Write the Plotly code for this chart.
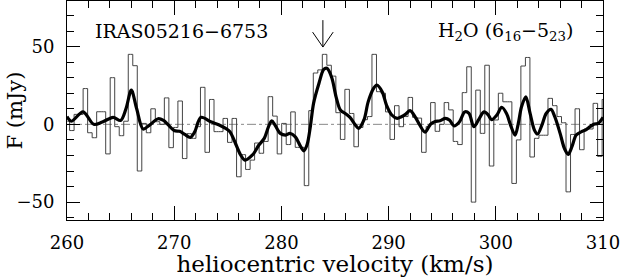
import plotly.graph_objects as go

# ---- data ----
# spectral channels (histogram): first channel centre and channel width (km/s)
CHAN_V0 = 260.03
CHAN_DV = 0.421
flux = [2, -4, 6.4, 6.4, 23, -5.4, -8.6, 8.1, 8.1, -19,
        30, -1.5, -7.3, 2, 45, 37.7, -30, 0.6, -5.4, 10,
        1.7, 0, 17, -15, -2, 15, -22, -6, -9, -1.5,
        23.8, -18, 16, -4.7, -4.7, 3.8, -11.6, 3.8, -33.7, -19.5,
        -29, -23, -12, -18.6, -11, 17.8, 5.3, -19, 0.6, -13,
        8, -14.8, -14.8, -39.4, 8.8, 33, 35, 45, 38, 31,
        7.5, -9.7, 22.5, 7, -14.4, -2, 3, 5, 45, 21,
        20, 8, -9.7, 12, -1.5, 5, 17.3, 4.5, 4, -18,
        -1.5, 14, -4.5, 0, 14, 9.3, -11, -13, 20.4, 37,
        -50, 22, -5.8, 38, -26.8, 2.8, 20, 14.5, 14.5, -38,
        -10, 37.5, 43, -21, -9, -7, -7, 16.7, 12, 5,
        1, -43.4, -6.5, 10, -16.3, -3, -3, 13.5, -20.6, 16]
velocity = [round(CHAN_V0 + CHAN_DV * k, 3) for k in range(len(flux))]

# smoothed spectrum, read at characteristic points (km/s, mJy)
smooth_v = [260.0, 260.4, 261.5, 262.5, 263.3, 264.3, 265.0, 265.5, 266.0, 266.5,
            267.1, 267.7, 268.5, 269.0, 269.4, 270.0, 270.5, 271.0, 271.5, 271.9,
            272.5, 273.4, 274.2, 274.8, 275.2, 275.7, 276.2, 276.6, 277.3, 277.9,
            278.4, 278.8, 279.1, 279.4, 279.9, 280.4, 280.8, 281.3, 281.8, 282.1,
            282.4, 282.7, 283.0, 283.5, 283.95, 284.25, 284.7, 285.1, 285.5, 285.95,
            286.4, 286.9, 287.2, 287.7, 288.1, 288.6, 288.9, 289.4, 289.8, 290.3,
            290.8, 291.2, 291.6, 292.0, 292.5, 292.9, 293.4, 293.9, 294.3, 294.8,
            295.3, 295.7, 296.1, 296.6, 297.1, 297.5, 297.95, 298.4, 298.9, 299.3,
            299.6, 300.1, 300.55, 301.0, 301.4, 301.8, 302.1, 302.4, 302.8, 303.2,
            303.6, 303.9, 304.3, 304.7, 305.15, 305.5, 306.0, 306.4, 306.75, 307.1,
            307.5, 308.0, 308.4, 308.8, 309.2, 309.55, 310.0]
smooth_f = [5, 2, 8, 0, 1.5, 4.5, 2.5, 10, 22, 10,
            -3, -0.5, 3.6, 2.5, 0, -4, -4.5, -6.5, -8.4, -5,
            4.5, 1.7, -0.4, -2.6, -4.7, -12, -19.7, -23, -19.7, -13.3,
            -9, -1.5, 2.3, -0.4, -5.8, -6.9, -5.8, -8, -14.4, -17,
            -13, -1.5, 13.5, 26.3, 35.3, 36, 30, 17.7, 9.2, 7,
            4.5, -0.4, -2.6, 2.8, 14.6, 23.1, 25.3, 21, 12.4, 6,
            3.8, 4.9, 6.6, 8.8, 4.5, -0.4, -5, 0, 1.7, 2.3,
            3.8, 2.6, -1, 1.5, 8, 7, -1.5, 3, 8, 6,
            3, 6, 11, 7, -1, -7, 0.6, 11.3, 17.7, 7,
            -3.6, -6.2, -0.5, 7, 9.6, 4.9, -5.8, -15.5, -19.3, -14.4,
            -6.9, -4.7, -3.6, -1.5, 0.2, 0.6, 4.5]

ARROW_V = 283.87
ARROW_TIP = 49.7
ARROW_TOP = 67
SOURCE = "IRAS05216−6753"
LINE = "H<sub>2</sub>O (6<sub>16</sub>−5<sub>23</sub>)"
X_TITLE = "heliocentric velocity (km/s)"
Y_TITLE = "F (mJy)"

X_RANGE = [260, 310]
Y_RANGE = [-61.5, 79.3]

FONT = "DejaVu Serif"

fig = go.Figure()
fig.add_trace(go.Scatter(x=velocity, y=flux, mode="lines",
                         line=dict(color="#444444", width=1, shape="hvh"),
                         hoverinfo="skip"))
fig.add_trace(go.Scatter(x=smooth_v, y=smooth_f, mode="lines",
                         line=dict(color="black", width=3.2, shape="spline", smoothing=0.9),
                         hoverinfo="skip"))

# zero level
fig.add_shape(type="line", xref="paper", yref="y", x0=0, x1=1, y0=0, y1=0,
              line=dict(color="#888888", width=1, dash="dashdot"), layer="below")
# arrow marking the line position
fig.add_shape(type="line", xref="x", yref="y", x0=ARROW_V, x1=ARROW_V,
              y0=ARROW_TIP, y1=ARROW_TOP, line=dict(color="black", width=1))
fig.add_shape(type="path", xref="x", yref="y",
              path=f"M {ARROW_V-0.96},{ARROW_TIP+9.6} L {ARROW_V},{ARROW_TIP} L {ARROW_V+0.96},{ARROW_TIP+9.6}",
              line=dict(color="black", width=1))

fig.add_annotation(x=262.45, y=60, xref="x", yref="y", text=SOURCE, showarrow=False,
                   xanchor="left", yanchor="middle", font=dict(family=FONT, size=19, color="black"))
fig.add_annotation(x=307.35, y=60, xref="x", yref="y", text=LINE, showarrow=False,
                   xanchor="right", yanchor="middle", font=dict(family=FONT, size=19, color="black"))
# y-axis title placed as an annotation
fig.add_annotation(x=-53 / 536, y=0.5, xref="paper", yref="paper", text=Y_TITLE, showarrow=False,
                   textangle=-90, xanchor="center", yanchor="middle",
                   font=dict(family=FONT, size=21, color="black"))

axis_common = dict(showline=True, linecolor="black", linewidth=1, mirror="allticks",
                   ticks="inside", tickcolor="black", tickwidth=1,
                   showgrid=False, zeroline=False,
                   tickfont=dict(family=FONT, size=18, color="black"))

fig.update_xaxes(range=X_RANGE, tick0=260, dtick=10, ticklen=14,
                 minor=dict(dtick=2, ticklen=7, ticks="inside", tickcolor="black", showgrid=False),
                 title=dict(text=X_TITLE, font=dict(family=FONT, size=23, color="black"), standoff=2),
                 ticklabelstandoff=6, **axis_common)
fig.update_yaxes(range=Y_RANGE, tick0=0, dtick=50, ticklen=13,
                 minor=dict(dtick=10, ticklen=7, ticks="inside", tickcolor="black", showgrid=False),
                 ticklabelstandoff=8, **axis_common)

fig.update_layout(width=622, height=277, margin=dict(l=67, r=19, t=1, b=57),
                  plot_bgcolor="white", paper_bgcolor="white", showlegend=False,
                  font=dict(family=FONT, color="black"))

fig.write_html("out.html", config={"displayModeBar": False, "staticPlot": True},
               post_script="document.body.style.margin='0px';")
